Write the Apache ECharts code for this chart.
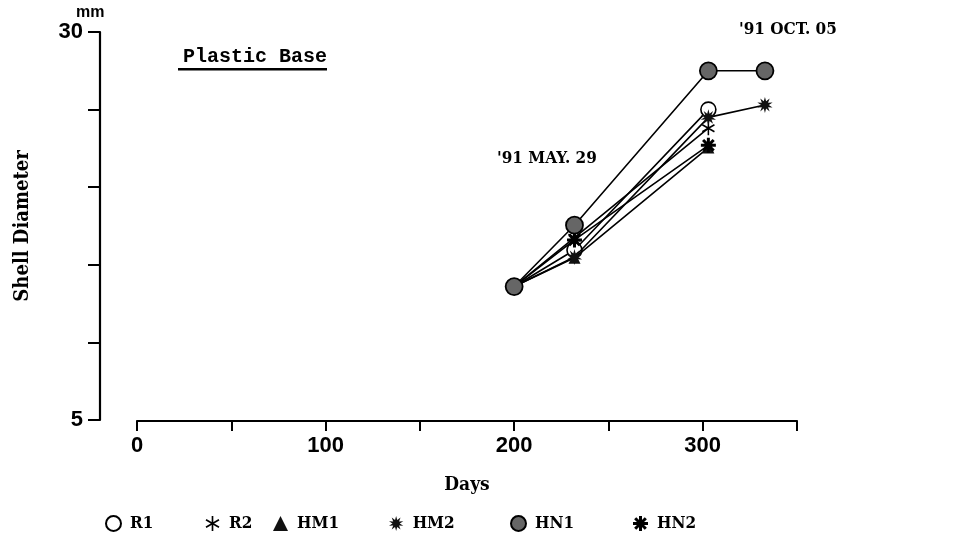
<!DOCTYPE html>
<html>
<head>
<meta charset="utf-8">
<script src="https://cdn.jsdelivr.net/npm/echarts@6/dist/echarts.min.js"></script>
<style>
html,body{margin:0;padding:0;background:#fff;}
#chart{width:973px;height:539px;}
</style>
</head>
<body>
<div id="chart"></div>
<script>
// ---- data ----
const days = [200, 232, 303, 333];
const R1  = [13.6, 15.95, 25.0, null];
const R2  = [13.6, 16.75, 23.8, null];
const HM1 = [13.6, 15.45, 22.55, null];
const HM2 = [13.6, 15.5, 24.5, 25.3];
const HN2 = [13.6, 16.6, 22.7, null];
const HN1 = [13.6, 17.55, 27.5, 27.5];
const xTickLabels = ['0', '100', '200', '300'];
const yTickLabels = ['5', '30'];
const legendNames = ['R1', 'R2', 'HM1', 'HM2', 'HN1', 'HN2'];

// ---- symbol paths (style) ----
function asterisk(lines, t) {
  let d = '';
  const L = 10;
  for (let i = 0; i < lines; i++) {
    const a = Math.PI * i / lines;
    const dx = Math.sin(a), dy = -Math.cos(a);
    const nx = Math.cos(a), ny = Math.sin(a);
    const p = [
      [L*dx + t*nx, L*dy + t*ny],
      [L*dx - t*nx, L*dy - t*ny],
      [-L*dx - t*nx, -L*dy - t*ny],
      [-L*dx + t*nx, -L*dy + t*ny]
    ].map(q => [(q[0]+10).toFixed(2), (q[1]+10).toFixed(2)]);
    d += 'M' + p[0].join(' ') + 'L' + p[1].join(' ') + 'L' + p[2].join(' ') + 'L' + p[3].join(' ') + 'Z';
  }
  return 'path://M0 0M20 20' + d;
}
function starburst(n, ro, ri) {
  let d = '';
  for (let i = 0; i < 2*n; i++) {
    const r = i % 2 === 0 ? ro : ri;
    const a = Math.PI * i / n;
    const x = (10 + r*Math.sin(a)).toFixed(2), y = (10 - r*Math.cos(a)).toFixed(2);
    d += (i === 0 ? 'M' : 'L') + x + ' ' + y;
  }
  return 'path://' + d + 'Z';
}
const symR2 = asterisk(3, 1.1);
const symHN2 = asterisk(4, 2.0);
const symHM2 = starburst(10, 10, 4.8);

const serifFont = '"DejaVu Serif Condensed", "Liberation Serif", serif';

function pairs(arr) { return days.map((d, i) => [d, arr[i]]); }

const styles = {
  R1:  {symbol: 'circle', symbolSize: 15, itemStyle: {color: '#fff', borderColor: '#000', borderWidth: 1.6}},
  R2:  {symbol: symR2, symbolSize: 14, itemStyle: {color: '#000', borderWidth: 0}},
  HM1: {symbol: 'triangle', symbolSize: 12, itemStyle: {color: '#111', borderWidth: 0}},
  HM2: {symbol: symHM2, symbolSize: 16, itemStyle: {color: '#111', borderWidth: 0}},
  HN1: {symbol: 'circle', symbolSize: 17, itemStyle: {color: '#666', borderColor: '#000', borderWidth: 1.8}},
  HN2: {symbol: symHN2, symbolSize: 15, itemStyle: {color: '#000', borderWidth: 0}}
};
const dataMap = {R1, R2, HM1, HM2, HN1, HN2};
const drawOrder = ['R1', 'HM1', 'R2', 'HN2', 'HM2', 'HN1'];

const series = drawOrder.map((name, k) => Object.assign({
  name: name,
  type: 'line',
  data: pairs(dataMap[name]),
  symbolKeepAspect: true,
  showAllSymbol: true,
  connectNulls: false,
  z: 2 + k,
  lineStyle: {color: '#000', width: 1.6},
  emphasis: {disabled: true},
  animation: false
}, styles[name]));

const legendLefts = [100, 200, 268, 384, 505, 628];
const legends = legendNames.map((name, i) => ({
  data: [{name: name, icon: styles[name].symbol}],
  left: legendLefts[i],
  top: 510,
  itemWidth: 15,
  itemHeight: 15,
  selectedMode: false,
  textStyle: {fontFamily: serifFont, fontWeight: 'bold', fontSize: 17, color: '#000', padding: [0, 0, 0, 4]}
}));

const chart = echarts.init(document.getElementById('chart'), null, {renderer: 'canvas'});
chart.setOption({
  animation: false,
  backgroundColor: '#fff',
  title: {
    text: 'Plastic Base',
    left: 178, top: 42,
    textStyle: {fontFamily: '"Liberation Mono", monospace', fontWeight: 'bold', fontSize: 20, color: '#000'}
  },
  legend: legends,
  grid: {left: 137, right: 176, top: 32, bottom: 119, containLabel: false},
  xAxis: {
    type: 'value',
    min: 0, max: 350, interval: 50,
    offset: 1,
    name: 'Days',
    nameLocation: 'middle',
    nameGap: 55,
    nameTextStyle: {fontFamily: serifFont, fontWeight: 'bold', fontSize: 19, color: '#000'},
    axisLine: {show: true, onZero: false, lineStyle: {color: '#000', width: 2.2}},
    axisTick: {show: true, inside: false, length: 10, lineStyle: {color: '#000', width: 2}},
    splitLine: {show: false},
    axisLabel: {
      margin: 14,
      fontFamily: '"Liberation Sans", Arial, sans-serif', fontWeight: 'bold', fontSize: 22, color: '#000',
      formatter: v => xTickLabels.indexOf(String(v)) >= 0 ? String(v) : ''
    }
  },
  yAxis: {
    type: 'value',
    min: 5, max: 30, interval: 5,
    offset: 37,
    name: 'Shell Diameter',
    nameLocation: 'middle',
    nameRotate: 90,
    nameGap: 67,
    nameTextStyle: {fontFamily: serifFont, fontWeight: 'bold', fontSize: 20, color: '#000'},
    axisLine: {show: true, onZero: false, lineStyle: {color: '#000', width: 2.2}},
    axisTick: {show: true, inside: false, length: 12, lineStyle: {color: '#000', width: 2}},
    splitLine: {show: false},
    axisLabel: {
      margin: 17,
      fontFamily: '"Liberation Sans", Arial, sans-serif', fontWeight: 'bold', fontSize: 22, color: '#000',
      formatter: v => yTickLabels.indexOf(String(v)) >= 0 ? String(v) : ''
    }
  },
  graphic: [
    {type: 'text', left: 76, top: 5, style: {text: 'mm', fontFamily: '"Liberation Sans", Arial, sans-serif', fontWeight: 'bold', fontSize: 16, fill: '#000'}},
    {type: 'rect', shape: {x: 178, y: 68, width: 149, height: 2.5}, style: {fill: '#000'}},
    {type: 'text', left: 497, top: 150, style: {text: "'91 MAY. 29", fontFamily: serifFont, fontWeight: 'bold', fontSize: 17, fill: '#000'}},
    {type: 'text', left: 739, top: 21, style: {text: "'91 OCT. 05", fontFamily: serifFont, fontWeight: 'bold', fontSize: 17, fill: '#000'}}
  ],
  series: series
});
</script>
</body>
</html>
